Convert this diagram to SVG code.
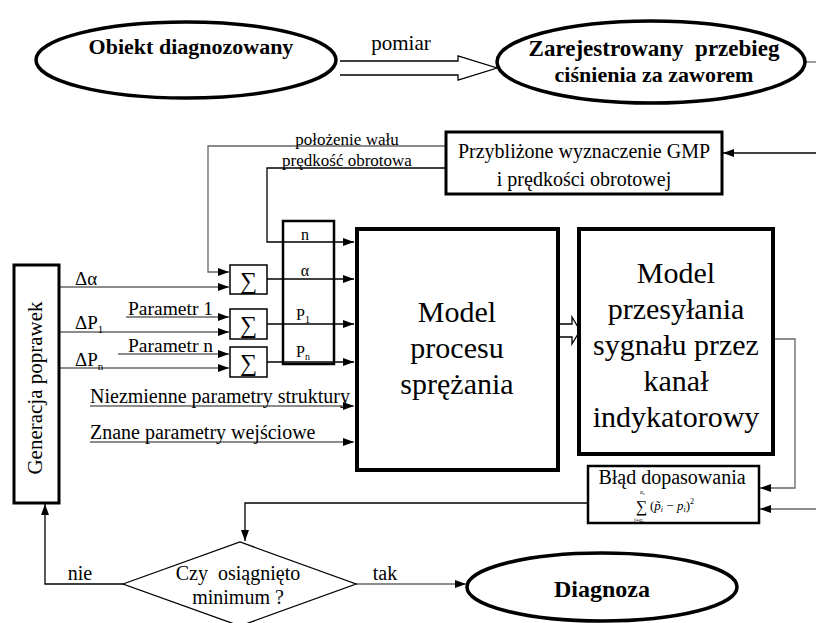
<svg xmlns="http://www.w3.org/2000/svg" width="816" height="623" viewBox="0 0 816 623">
<style>
text{font-family:"Liberation Serif","DejaVu Serif",serif;fill:#000}
.b{font-weight:bold;font-size:22px}
.s{font-size:20px}
.m{font-size:30px}
.sm{font-size:17px}
.thick{fill:#fff;stroke:#000;stroke-width:4}
.med{fill:#fff;stroke:#000;stroke-width:3}
.thin{fill:#fff;stroke:#000;stroke-width:1.5}
.ell{fill:#fff;stroke:#000;stroke-width:3.5}
.cb{fill:none;stroke:#000;stroke-width:1.3}
.cg{fill:none;stroke:#666;stroke-width:1.3}
</style>
<defs>
<marker id="ah" markerWidth="11" markerHeight="8" refX="11" refY="4" orient="auto" markerUnits="userSpaceOnUse"><path d="M0,0 L11,4 L0,8 Z" fill="#000"/></marker>
</defs>

<g id="connectors">
<path class="cb" d="M340,61 H458 V56 L497,68 L458,80 V75 H340" fill="#fff"/>
<path class="cg" d="M805,62 H816"/>
<path class="cb" d="M816,153 H723" marker-end="url(#ah)"/>
<path class="cg" d="M445,146 H208 V272 H229" marker-end="url(#ah)"/>
<path class="cb" d="M445,168 H267 V242 H354" marker-end="url(#ah)"/>
<path class="cg" d="M59,287 H229" marker-end="url(#ah)"/>
<path class="cg" d="M126,317 H229" marker-end="url(#ah)"/>
<path class="cg" d="M59,332 H229" marker-end="url(#ah)"/>
<path class="cg" d="M118,354 H229" marker-end="url(#ah)"/>
<path class="cg" d="M59,368 H229" marker-end="url(#ah)"/>
<path class="cb" d="M267,279 H354" marker-end="url(#ah)"/>
<path class="cb" d="M267,324 H354" marker-end="url(#ah)"/>
<path class="cb" d="M267,362 H354" marker-end="url(#ah)"/>
<path class="cg" d="M90,406 H354" marker-end="url(#ah)"/>
<path class="cg" d="M90,442 H354" marker-end="url(#ah)"/>
<path class="cb" d="M559,324 H572 V317 L580,330.5 L572,344 V337 H559" fill="#fff"/>
<path class="cg" d="M775,339 H795 V488 H760" marker-end="url(#ah)"/>
<path class="cg" d="M816,509 H760" marker-end="url(#ah)"/>
<path class="cb" d="M587,503 H245 V541" marker-end="url(#ah)"/>
<path class="cb" d="M123,584 H45 V504" marker-end="url(#ah)"/>
<path class="cg" d="M356,584 H466" marker-end="url(#ah)"/>
<text x="401" y="50" font-size="21" text-anchor="middle">pomiar</text>
<text class="sm" x="347" y="145" text-anchor="middle">położenie wału</text>
<text class="sm" x="347" y="166" text-anchor="middle">prędkość obrotowa</text>
<text x="75" y="285" font-size="19">Δα</text>
<text x="75" y="329" font-size="19">ΔP<tspan font-size="11" dy="4">1</tspan></text>
<text x="75" y="366" font-size="19">ΔP<tspan font-size="11" dy="4">n</tspan></text>
<text x="128" y="315" font-size="19.5">Parametr 1</text>
<text x="128" y="352" font-size="19.5">Parametr n</text>
<text class="s" x="90" y="403">Niezmienne parametry struktury</text>
<text class="s" x="90" y="439">Znane parametry wejściowe</text>
<text class="s" x="80" y="580" text-anchor="middle">nie</text>
<text class="s" x="385" y="580" text-anchor="middle">tak</text>
</g>

<g id="obiekt">
<ellipse class="ell" cx="186" cy="60" rx="150" ry="38"/>
<text class="b" x="191" y="54" text-anchor="middle">Obiekt diagnozowany</text>
</g>

<g id="zarejestrowany">
<ellipse class="ell" cx="651" cy="62" rx="154" ry="41"/>
<text x="654" y="56" font-size="23" font-weight="bold" text-anchor="middle">Zarejestrowany&#160; przebieg</text>
<text class="b" x="654" y="82" text-anchor="middle">ciśnienia za zaworem</text>
</g>

<g id="gmp">
<rect class="med" x="446" y="132" width="276" height="62"/>
<text class="s" x="584" y="158" text-anchor="middle">Przybliżone wyznaczenie GMP</text>
<text class="s" x="584" y="186" text-anchor="middle">i prędkości obrotowej</text>
</g>

<g id="generacja">
<rect class="med" x="14" y="265" width="45" height="238"/>
<text font-size="21" x="0" y="0" text-anchor="middle" transform="translate(42,388) rotate(-90)">Generacja poprawek</text>
</g>

<g id="sum1">
<rect class="thin" x="230" y="265" width="37" height="29"/>
<text x="248.5" y="289" font-size="24" text-anchor="middle">∑</text>
</g>
<g id="sum2">
<rect class="thin" x="230" y="309" width="37" height="30"/>
<text x="248.5" y="333" font-size="24" text-anchor="middle">∑</text>
</g>
<g id="sum3">
<rect class="thin" x="230" y="347" width="37" height="30"/>
<text x="248.5" y="371" font-size="24" text-anchor="middle">∑</text>
</g>

<g id="params">
<rect x="283" y="221" width="51" height="143" fill="none" stroke="#000" stroke-width="2.5"/>
<text x="305" y="240" font-size="16" text-anchor="middle">n</text>
<text x="305" y="276" font-size="16" text-anchor="middle">α</text>
<text x="303" y="320" font-size="16" text-anchor="middle">P<tspan font-size="10" dy="3">1</tspan></text>
<text x="303" y="357" font-size="16" text-anchor="middle">P<tspan font-size="10" dy="3">n</tspan></text>
</g>

<g id="model-procesu">
<rect class="thick" x="357" y="229" width="201" height="241"/>
<text class="m" x="457" y="322" text-anchor="middle">Model</text>
<text class="m" x="457" y="358" text-anchor="middle">procesu</text>
<text class="m" x="457" y="394" text-anchor="middle">sprężania</text>
</g>

<g id="model-przesylania">
<rect class="thick" x="579" y="229" width="194" height="225"/>
<text class="m" x="676" y="283" text-anchor="middle">Model</text>
<text class="m" x="676" y="319" text-anchor="middle">przesyłania</text>
<text class="m" x="676" y="355" text-anchor="middle">sygnału przez</text>
<text class="m" x="676" y="391" text-anchor="middle">kanał</text>
<text class="m" x="676" y="427" text-anchor="middle">indykatorowy</text>
</g>

<g id="blad">
<rect x="588" y="466" width="171" height="57" fill="#fff" stroke="#000" stroke-width="2.5"/>
<text class="s" x="672" y="484" text-anchor="middle">Błąd dopasowania</text>
<text x="636" y="512" font-size="16">∑</text>
<text x="640" y="494" font-size="5.5" font-style="italic">α<tspan font-size="4" dy="1">z</tspan></text>
<text x="634" y="521.5" font-size="5.5" font-style="italic">i=α<tspan font-size="4" dy="1">p</tspan></text>
<text x="650" y="510" font-size="13">(<tspan font-style="italic">p̃</tspan><tspan font-size="8" dy="2" font-style="italic">i</tspan><tspan dy="-2"> − </tspan><tspan font-style="italic">p</tspan><tspan font-size="8" dy="2" font-style="italic">i</tspan><tspan dy="-2">)</tspan><tspan font-size="8" dy="-6">2</tspan></text>
</g>

<g id="decyzja">
<polygon points="123,584 240,542 356,584 240,626" fill="#fff" stroke="#000" stroke-width="1.3"/>
<text class="s" x="238" y="580" text-anchor="middle">Czy&#160; osiągnięto</text>
<text class="s" x="238" y="604" text-anchor="middle">minimum ?</text>
</g>

<g id="diagnoza">
<ellipse class="ell" cx="602" cy="587" rx="135" ry="34"/>
<text x="602" y="597" font-size="24" font-weight="bold" text-anchor="middle">Diagnoza</text>
</g>
</svg>
